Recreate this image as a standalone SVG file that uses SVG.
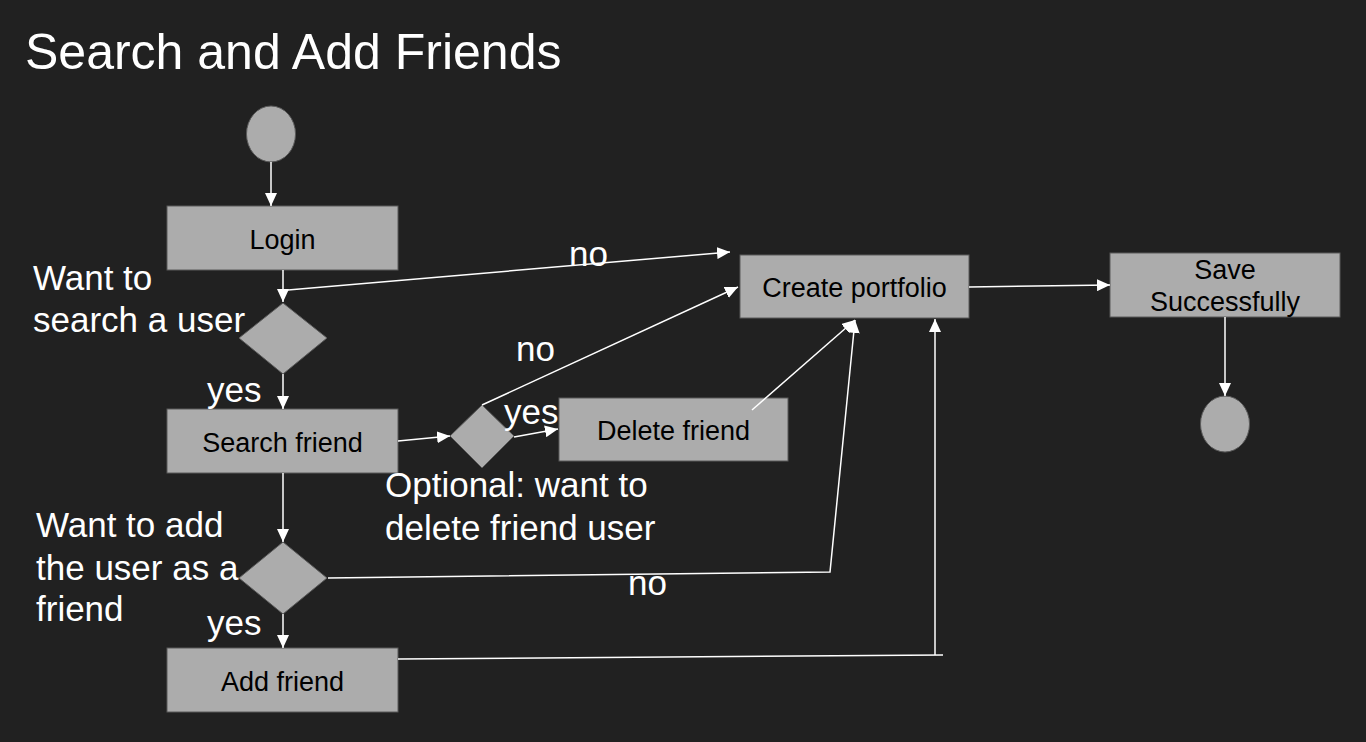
<svg xmlns="http://www.w3.org/2000/svg" width="1366" height="742" viewBox="0 0 1366 742">
<style>
.bg{fill:#212121}
.node{fill:#acacac;stroke:#5a5a5a;stroke-width:1}
.ntext{font-family:"Liberation Sans",Arial,sans-serif;font-size:27px;fill:#000;text-anchor:middle}
.label{font-family:"Liberation Sans",Arial,sans-serif;font-size:35px;fill:#fff}
.title{font-family:"Liberation Sans",Arial,sans-serif;font-size:50px;fill:#fff}
.conn{fill:none;stroke:#fff;stroke-width:1.5}
.arr{marker-end:url(#ah)}
</style>
<defs>
<marker id="ah" markerUnits="userSpaceOnUse" markerWidth="14" markerHeight="12" refX="13" refY="6" orient="auto">
<path d="M0,0 L13,6 L0,12 z" fill="#fff"/>
</marker>
</defs>
<rect class="bg" x="0" y="0" width="1366" height="742"/>
<text class="title" x="25" y="69">Search and Add Friends</text>

<g id="start"><ellipse class="node" cx="271" cy="134" rx="24.5" ry="28"/></g>
<g id="login"><rect class="node" x="167" y="206" width="231" height="64"/><text class="ntext" x="282.5" y="249">Login</text></g>
<g id="decision-search"><polygon class="node" points="283,303 327,338 283,374 239,338"/></g>
<g id="search-friend"><rect class="node" x="167" y="409" width="231" height="64"/><text class="ntext" x="282.5" y="452">Search friend</text></g>
<g id="decision-delete"><polygon class="node" points="482,405 514,436 482,468 450,436"/></g>
<g id="delete-friend"><rect class="node" x="559" y="398" width="229" height="63"/><text class="ntext" x="673.5" y="440">Delete friend</text></g>
<g id="decision-add"><polygon class="node" points="283,542 327,578 283,614 239,578"/></g>
<g id="add-friend"><rect class="node" x="167" y="648" width="231" height="64"/><text class="ntext" x="282.5" y="691">Add friend</text></g>
<g id="create-portfolio"><rect class="node" x="740" y="255" width="229" height="63"/><text class="ntext" x="854.5" y="297">Create portfolio</text></g>
<g id="save"><rect class="node" x="1110" y="253" width="230" height="64"/><text class="ntext" x="1225" y="279">Save</text><text class="ntext" x="1225" y="311">Successfully</text></g>
<g id="end"><ellipse class="node" cx="1225" cy="424" rx="24.5" ry="28"/></g>

<g id="connectors">
<line class="conn arr" x1="271" y1="162" x2="271" y2="206"/>
<line class="conn arr" x1="283" y1="270" x2="283" y2="302"/>
<line class="conn arr" x1="288" y1="290" x2="730" y2="252"/>
<line class="conn arr" x1="283" y1="374" x2="283" y2="409"/>
<line class="conn arr" x1="398" y1="441" x2="450" y2="436"/>
<line class="conn arr" x1="514" y1="437" x2="558" y2="429"/>
<line class="conn arr" x1="482" y1="405" x2="738" y2="287"/>
<line class="conn arr" x1="752" y1="410" x2="855" y2="320"/>
<polyline class="conn arr" points="328,578 830,572 855,320"/>
<line class="conn arr" x1="283" y1="473" x2="283" y2="542"/>
<line class="conn arr" x1="283" y1="614" x2="283" y2="648"/>
<line class="conn" x1="398" y1="659" x2="943" y2="655"/>
<line class="conn arr" x1="935" y1="655" x2="935" y2="319"/>
<line class="conn arr" x1="969" y1="287" x2="1110" y2="285"/>
<line class="conn arr" x1="1225" y1="317" x2="1225" y2="396"/>
</g>

<g id="labels">
<text class="label" x="33" y="290">Want to</text>
<text class="label" x="33" y="332">search a user</text>
<text class="label" x="207" y="402">yes</text>
<text class="label" x="569" y="266">no</text>
<text class="label" x="516" y="361">no</text>
<text class="label" x="504" y="424">yes</text>
<text class="label" x="385" y="497">Optional: want to</text>
<text class="label" x="385" y="540">delete friend user</text>
<text class="label" x="36" y="537">Want to add</text>
<text class="label" x="36" y="580">the user as a</text>
<text class="label" x="36" y="621">friend</text>
<text class="label" x="207" y="635">yes</text>
<text class="label" x="628" y="595">no</text>
</g>
</svg>
